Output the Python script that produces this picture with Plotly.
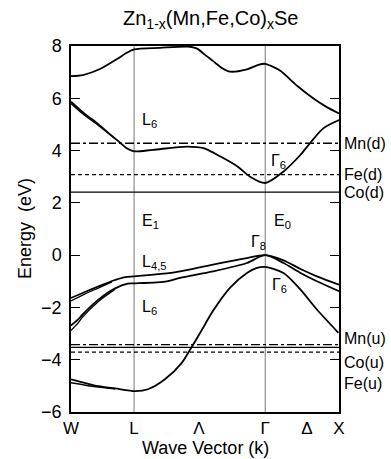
import plotly.graph_objects as go

# symmetry points along the path (arbitrary k units)
sym_labels = ["W", "L", "Λ", "Γ", "Δ", "X"]
sym_k = [0.0, 1.0, 2.03, 3.08, 3.74, 4.25]

# conduction bands
c1_k = [0, 0.19, 0.46, 0.73, 0.89, 1.0, 1.41, 1.89, 2.0, 2.13, 2.25, 2.40, 2.52, 2.79, 2.97, 3.08, 3.19, 3.32, 3.59, 3.84, 4.03, 4.25]
c1_E = [6.85, 6.89, 7.12, 7.50, 7.75, 7.87, 7.93, 7.97, 7.90, 7.65, 7.43, 7.15, 7.02, 7.11, 7.28, 7.32, 7.22, 7.05, 6.47, 6.00, 5.70, 5.42]

c2_k = [0, 0.22, 0.35, 0.46, 0.62, 0.78, 0.89, 1.0, 1.30, 1.84, 2.10, 2.37, 2.64, 2.84, 3.08, 3.37, 3.64, 3.79, 4.0, 4.25]
c2_E = [5.87, 5.40, 5.17, 4.95, 4.62, 4.30, 4.08, 3.97, 4.03, 4.15, 4.09, 3.77, 3.39, 3.00, 2.76, 3.20, 3.84, 4.28, 4.85, 5.17]
c2b_k = [0, 0.22, 0.46, 0.7]
c2b_E = [5.80, 5.34, 4.91, 4.45]

# valence bands
vA_k = [0, 0.21, 0.43, 0.65, 0.86, 1.0, 1.52, 1.73, 2.25, 2.79, 3.08, 3.37, 3.64, 3.90, 4.25]
vA_E = [-1.64, -1.42, -1.20, -0.99, -0.84, -0.81, -0.70, -0.62, -0.36, -0.11, 0.0, -0.20, -0.53, -0.81, -1.13]
vA2_k = [0, 0.21, 0.43, 0.65]
vA2_E = [-1.75, -1.50, -1.26, -1.02]

vB_k = [0, 0.11, 0.18, 0.43, 0.70, 0.90, 1.0, 1.52, 1.73, 2.25, 2.79, 3.08, 3.37, 3.64, 3.90, 4.25]
vB_E = [-2.69, -2.47, -2.28, -1.71, -1.27, -1.09, -1.08, -1.00, -0.87, -0.62, -0.30, 0.0, -0.30, -0.68, -1.00, -1.38]
vB2_k = [0, 0.11, 0.18, 0.43, 0.70]
vB2_E = [-2.88, -2.60, -2.38, -1.78, -1.30]

vC_k = [0, 0.43, 0.70, 1.02, 1.22, 1.49, 1.76, 1.89, 2.08, 2.25, 2.52, 2.79, 2.95, 3.08, 3.37, 3.64, 3.90, 4.24]
vC_E = [-4.75, -5.01, -5.10, -5.20, -5.13, -4.75, -4.11, -3.61, -2.84, -2.14, -1.25, -0.68, -0.49, -0.45, -0.68, -1.32, -2.08, -2.97]
vC2_k = [0, 0.43, 0.70]
vC2_E = [-4.88, -5.05, -5.12]

# impurity d levels
level_names = ["Mn(d)", "Fe(d)", "Co(d)", "Mn(u)", "Co(u)", "Fe(u)"]
level_E = [4.28, 3.08, 2.41, -3.42, -3.53, -3.71]
level_dash = ["dashdot", "4px,3px", "solid", "dashdot", "solid", "4px,3px"]
label_E = [4.28, 3.08, 2.41, -3.18, -4.1, -4.9]

# point labels
pt_text = ["L<sub>6</sub>", "Γ<sub>6</sub>", "E<sub>1</sub>", "E<sub>0</sub>", "Γ<sub>8</sub>",
           "L<sub>4,5</sub>", "Γ<sub>6</sub>", "L<sub>6</sub>"]
pt_k = [1.09, 3.14, 1.09, 3.19, 2.82, 1.09, 3.16, 1.09]
pt_E = [5.15, 3.6, 1.3, 1.3, 0.5, -0.3, -1.15, -2.0]

font_family = "Liberation Sans, Arial, sans-serif"
fig = go.Figure()

band_line = dict(color="black", width=1.8)
thin_line = dict(color="black", width=1.3)
for kk, ee, ln in [(c1_k, c1_E, band_line), (c2_k, c2_E, band_line), (c2b_k, c2b_E, thin_line),
                   (vA_k, vA_E, band_line), (vA2_k, vA2_E, thin_line),
                   (vB_k, vB_E, band_line), (vB2_k, vB2_E, thin_line),
                   (vC_k, vC_E, band_line), (vC2_k, vC2_E, thin_line)]:
    fig.add_trace(go.Scatter(x=kk, y=ee, mode="lines", line=dict(shape="spline", smoothing=0.8, **ln),
                             showlegend=False, hoverinfo="skip"))

for e, d in zip(level_E, level_dash):
    fig.add_trace(go.Scatter(x=[sym_k[0], sym_k[-1]], y=[e, e], mode="lines",
                             line=dict(color="black", width=1.3, dash=d), showlegend=False, hoverinfo="skip"))

shapes = []
for k in [sym_k[1], sym_k[3]]:
    shapes.append(dict(type="line", xref="x", yref="paper", x0=k, x1=k, y0=0, y1=1,
                       line=dict(color="#777777", width=1), layer="below"))

annotations = []
for name, e in zip(level_names, label_E):
    annotations.append(dict(x=1, xref="paper", xanchor="left", xshift=3, y=e, yref="y", yanchor="middle",
                            text=name, showarrow=False, font=dict(size=16, color="black", family=font_family)))
for t, k, e in zip(pt_text, pt_k, pt_E):
    annotations.append(dict(x=k, y=e, xref="x", yref="y", xanchor="left", yanchor="middle", text=t,
                            showarrow=False, font=dict(size=16, color="black", family=font_family)))
annotations.append(dict(x=0.5, xref="paper", y=0, yref="paper", yshift=-36, yanchor="middle",
                        text="Wave Vector (k)", showarrow=False,
                        font=dict(size=18, color="black", family=font_family)))
annotations.append(dict(x=0, xref="paper", xshift=-46, y=0.5, yref="paper", xanchor="center",
                        text="Energy  (eV)", textangle=-90, showarrow=False,
                        font=dict(size=18, color="black", family=font_family)))
annotations.append(dict(x=0.52, xref="paper", y=1, yref="paper", yshift=27, yanchor="middle",
                        text="Zn<sub>1-x</sub>(Mn,Fe,Co)<sub>x</sub>Se", showarrow=False,
                        font=dict(size=20, color="black", family=font_family)))

fig.update_layout(
    width=391, height=459,
    margin=dict(l=71, r=52, t=46, b=47),
    paper_bgcolor="white", plot_bgcolor="white",
    shapes=shapes, annotations=annotations,
    font=dict(family=font_family, color="black", size=16),
    xaxis=dict(range=[sym_k[0], sym_k[-1]], tickvals=sym_k, ticktext=sym_labels, ticks="",
               showgrid=False, zeroline=False, showline=True, linecolor="black", linewidth=1.5,
               mirror=True, tickfont=dict(size=17)),
    yaxis=dict(range=[-6, 8], dtick=2, ticks="inside", ticklen=9, tickwidth=1.3, tickcolor="black",
               showgrid=False, zeroline=False, showline=True, linecolor="black", linewidth=1.5,
               mirror="ticks", tickfont=dict(size=18), ticklabelstandoff=4),
)

fig.write_html("out.html")
